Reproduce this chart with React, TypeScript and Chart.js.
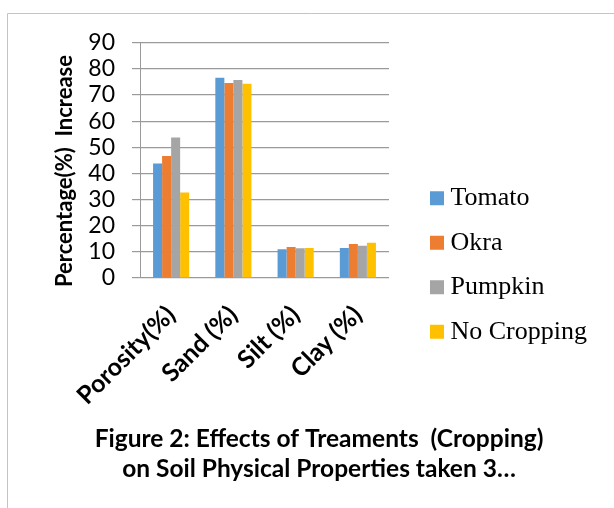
import React, { useEffect, useRef } from 'react';
import { Chart, registerables } from 'chart.js';

Chart.register(...registerables);

const categories = ['Porosity(%)', 'Sand (%)', 'Silt (%)', 'Clay (%)'];
const seriesNames = ['Tomato', 'Okra', 'Pumpkin', 'No Cropping'];
const tomato = [43.8, 76.6, 11.0, 11.5];
const okra = [46.7, 74.6, 11.9, 13.0];
const pumpkin = [53.7, 75.7, 11.4, 12.3];
const noCropping = [32.7, 74.3, 11.5, 13.5];
const seriesColors = ['#5B9BD5', '#ED7D31', '#A5A5A5', '#FFC000'];
const yMin = 0;
const yMax = 90;
const yStep = 10;
const yAxisTitle = 'Percentage(%)  Increase    ';
const titleLines = ['Figure 2: Effects of Treaments  (Cropping)', 'on Soil Physical Properties taken 3…'];

const frame = {
  id: 'frame',
  beforeLayout(chart: any) {
    const leg = chart.legend;
    if (leg && !leg.__wide) {
      const orig = leg.update.bind(leg);
      leg.update = (mw: number, mh: number, m: any) => orig(Math.max(mw, 260), mh, m);
      leg.__wide = true;
    }
  },
  beforeDraw(chart: any) {
    const ctx = chart.ctx;
    ctx.save();
    ctx.strokeStyle = '#c4c4c4';
    ctx.lineWidth = 1;
    ctx.beginPath();
    ctx.moveTo(7.5, chart.height);
    ctx.lineTo(7.5, 13.5);
    ctx.lineTo(chart.width, 13.5);
    ctx.stroke();
    ctx.restore();
  },
};

export default function App() {
  const ref = useRef<HTMLCanvasElement>(null);
  useEffect(() => {
    if (!ref.current) return;
    const values = [tomato, okra, pumpkin, noCropping];
    const chart = new Chart(ref.current, {
      type: 'bar',
      data: {
        labels: categories,
        datasets: seriesNames.map((name, i) => ({
          label: name,
          data: values[i],
          backgroundColor: seriesColors[i],
          borderWidth: 0,
          categoryPercentage: 0.58,
          barPercentage: 1,
        })),
      },
      options: {
        responsive: false,
        animation: false,
        layout: { padding: { left: 41, right: 17, top: 22, bottom: 0 } },
        plugins: {
          tooltip: { enabled: false },
          legend: {
            position: 'right',
            labels: {
              usePointStyle: true,
              pointStyle: 'rect',
              boxWidth: 1,
              boxHeight: 14,
              padding: 18.5,
              color: '#000',
              font: { family: '"Liberation Serif", "Times New Roman", serif', size: 26 },
            },
          },
          title: {
            display: true,
            position: 'bottom',
            text: titleLines,
            color: '#000',
            font: { family: 'Lato, "Open Sans", sans-serif', size: 24.5, weight: 'bold', lineHeight: '30px' },
            padding: { top: 16, bottom: 24 },
          },
        },
        scales: {
          x: {
            type: 'category',
            grid: { display: false },
            border: { display: false },
            ticks: {
              autoSkip: false,
              maxRotation: 45,
              minRotation: 45,
              padding: 14,
              color: '#000',
              font: { family: 'Lato, "Open Sans", sans-serif', size: 25, weight: 'bold' },
            },
            afterFit(s: any) { s.height = 130; },
          },
          x2: {
            type: 'linear',
            position: 'top',
            display: true,
            grid: { display: false },
            border: { display: false },
            ticks: { display: false },
            afterFit(s: any) { s.height = 20.7; },
          },
          y: {
            min: yMin,
            max: yMax,
            ticks: {
              stepSize: yStep,
              autoSkip: false,
              padding: 17,
              color: '#000',
              font: { family: 'Lato, "Open Sans", sans-serif', size: 23 },
            },
            grid: { color: '#9a9a9a', lineWidth: 1.2, tickLength: 8, drawTicks: true },
            border: { display: true, color: '#9a9a9a', width: 1 },
            title: {
              display: true,
              text: yAxisTitle,
              color: '#000',
              font: { family: 'Lato, "Open Sans", sans-serif', size: 22, weight: 'bold', lineHeight: 1.2 },
              padding: { top: 11, bottom: 0 },
            },
            afterFit(s: any) { s.width = 99; },
          },
          y2: {
            type: 'linear',
            position: 'right',
            display: true,
            grid: { display: false },
            border: { display: false },
            ticks: { display: false },
            afterFit(s: any) { s.width = 29; },
          },
        },
      },
      plugins: [frame],
    } as any);
    return () => chart.destroy();
  }, []);
  return (
    <div style={{ position: 'fixed', left: 0, top: 0, width: 614, height: 508, background: '#fff' }}>
      <canvas ref={ref} width={614} height={508} />
    </div>
  );
}
